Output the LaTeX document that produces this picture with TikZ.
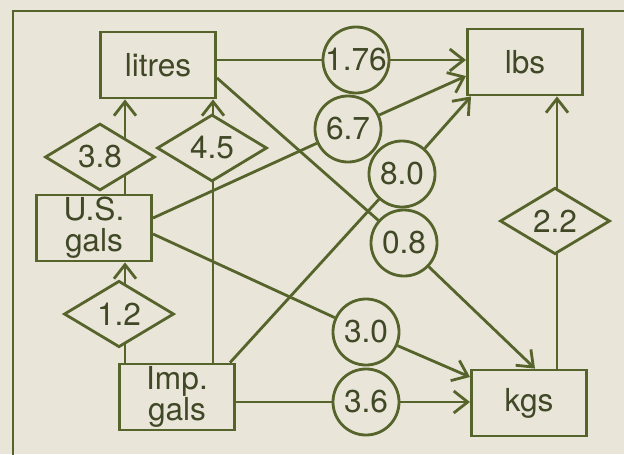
\documentclass[tikz,border=0pt]{standalone}
\usepackage{fontspec}
\setmainfont{TeX Gyre Heros}
\usetikzlibrary{shapes.geometric, arrows.meta, calc, backgrounds}
\definecolor{ink}{RGB}{86,100,44}
\definecolor{inktext}{RGB}{64,72,38}
\definecolor{paper}{RGB}{233,230,217}

\tikzset{
  unitbox/.style={draw=ink, line width=2pt, fill=paper, minimum width=2.88cm,
    minimum height=1.65cm, inner sep=0pt, align=center},
  factor/.style={diamond, draw=ink, line width=2pt, fill=paper,
    minimum width=2.75cm, minimum height=1.62cm, inner sep=0pt},
  rate/.style={circle, draw=ink, line width=2pt, fill=paper,
    minimum size=1.65cm, inner sep=0pt},
  link/.style={ink, line width=2pt},
  conv/.style={link, -{Straight Barb[length=0.35cm,width=0.55cm]}}
}

\begin{document}
\begin{tikzpicture}[x=0.025cm, y=-0.025cm, font=\fontsize{22.5}{22}\selectfont, text=inktext]
    \useasboundingbox (0,0) rectangle (624,454);
    \begin{scope}[on background layer]
      \fill[paper] (0,0) rectangle (624,454);
      \draw[link] (13,11) rectangle (660,490);
    \end{scope}

    % units
    \node[unitbox] (litres) at (158,65) {litres};
    \node[unitbox] (lbs) at (525,62) {lbs};
    \node[unitbox] (usg) at (94,228) {U.S.\\gals};
    \node[unitbox] (impg) at (177,397) {Imp.\\gals};
    \node[unitbox] (kgs) at (529,403) {kgs};

    % factors between volumes / masses
    \node[factor] (d38) at (100,157) {3.8};
    \node[factor] (d45) at (212,148) {4.5};
    \node[factor] (d12) at (119,314) {1.2};
    \node[factor] (d22) at (555,221) {2.2};

    % volume -> mass
    \node[rate] (c176) at (356,60) {1.76};
    \node[rate] (c67) at (348,129) {6.7};
    \node[rate] (c80) at (402,174) {8.0};
    \node[rate] (c08) at (404,243) {0.8};
    \node[rate] (c30) at (366,332) {3.0};
    \node[rate] (c36) at (366,402) {3.6};

    \coordinate (colA) at (125,0);
    \coordinate (colB) at (213,0);
    \coordinate (colC) at (557,0);

    \begin{scope}[on background layer]
      \draw[conv] (usg.north -| colA) -- (litres.south -| colA);
      \draw[conv] (impg.north -| colA) -- (usg.south -| colA);
      \draw[conv] (impg.north -| colB) -- (litres.south -| colB);
      \draw[conv] (kgs.north -| colC) -- (lbs.south -| colC);
      %
      \draw[link] (c176.west -| litres.east) -- (c176);
      \draw[conv] (c176) -- (c176 -| lbs.west);
      \draw[link] ($(litres.east)+(0,13)$) -- (c08);
      \draw[conv] (c08) -- ($(kgs.north)+(6,0)$);
      \draw[link] ($(usg.east)+(0,-10)$) -- (c67);
      \draw[conv] (c67) -- ($(lbs.west)+(0,14)$);
      \draw[link] ($(usg.east)+(0,6)$) -- (c30);
      \draw[conv] (c30) -- ($(kgs.west)+(0,-26)$);
      \draw[link] ($(impg.north east)+(-6,0)$) -- (c80);
      \draw[conv] (c80) -- ($(lbs.south west)+(5,0)$);
      \draw[link] (impg.east |- c36) -- (c36);
      \draw[conv] (c36) -- (kgs.west |- c36);
    \end{scope}
\end{tikzpicture}
\end{document}
